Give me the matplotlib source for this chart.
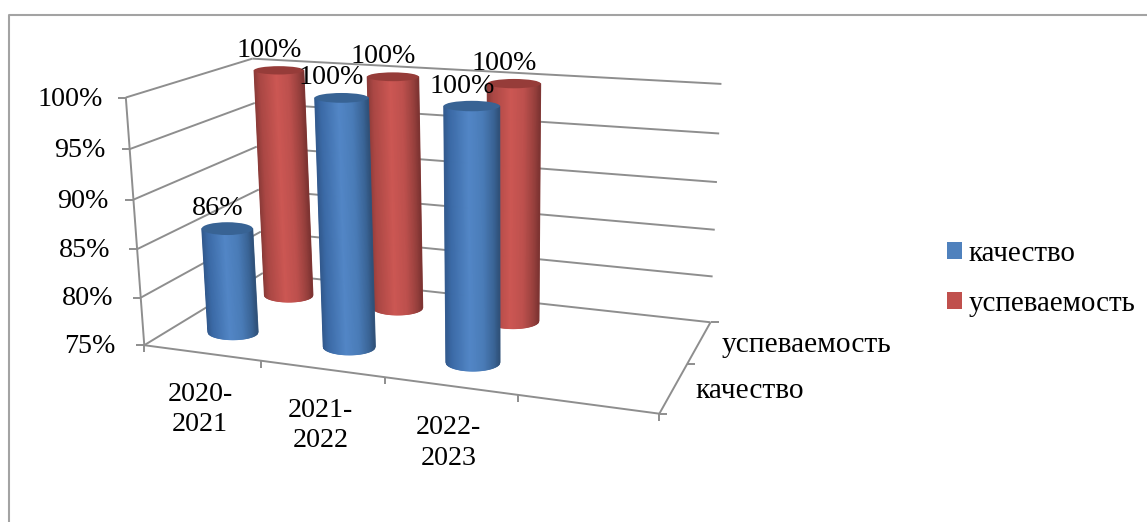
import matplotlib as mpl
import matplotlib.pyplot as plt
import numpy as np
from matplotlib.collections import PolyCollection
from matplotlib.colors import LinearSegmentedColormap
from matplotlib.patches import Ellipse, Patch

mpl.rcParams['font.family'] = ['Liberation Serif', 'DejaVu Serif']

categories = ['2020-\n2021', '2021-\n2022', '2022-\n2023']
n_slots = 4  # the source chart has one empty category on the right
series_names = ['качество', 'успеваемость']
kachestvo = [86, 100, 100]
uspevaemost = [100, 100, 100]
value_ticks = [75, 80, 85, 90, 95, 100]
vmin, vmax = 75, 100

GRID = '#8e8e8e'
FRAME = '#a3a3a3'
FS = 20.2
FS_RU = 21.2

# camera: box corners (x, depth, value) -> pixels, solved for a projective matrix
box = [(0, 0, 0), (0, 0, 1), (0, 1, 1), (0, 1, 0), (1, 1, 1), (1, 1, 0), (1, 0, 0),
       (.25, 0, 0), (.5, 0, 0), (.75, 0, 0)]
pix = [(143, 344), (128, 97), (250, 59), (265, 272), (722, 84), (710, 323), (660, 410),
       (260, 363), (385, 378), (517, 397)]
rows, rhs = [], []
for (X, Z, Y), (u, v) in zip(box, pix):
    rows.append([X, Z, Y, 1, 0, 0, 0, 0, -u * X, -u * Z, -u * Y])
    rhs.append(u)
    rows.append([0, 0, 0, 0, X, Z, Y, 1, -v * X, -v * Z, -v * Y])
    rhs.append(v)
P = np.append(np.linalg.lstsq(np.array(rows, float), np.array(rhs, float), rcond=None)[0], 1).reshape(3, 4)


def proj(x, z, y):
    p = P @ np.array([x, z, y, 1.0])
    return p[0] / p[2], p[1] / p[2]


def norm(v):
    return (v - vmin) / (vmax - vmin)


blue_cm = LinearSegmentedColormap.from_list('b', [(0, '#31588c'), (.12, '#3b6aa6'), (.45, '#5286c6'),
                                                  (.7, '#4a7cb8'), (.9, '#3a6496'), (1, '#2f5078')])
red_cm = LinearSegmentedColormap.from_list('r', [(0, '#8a3a38'), (.12, '#aa4744'), (.45, '#cc5753'),
                                                 (.7, '#bd504d'), (.9, '#97403d'), (1, '#7c3331')])


def half_width(xc, depth, y, r=0.054):
    w = (proj(xc + r, depth, y)[0] - proj(xc - r, depth, y)[0]) / 2
    return .6 * w + .4 * 26.5  # the source bars widen less than the floor does


def flatness(py):
    # ellipses get flatter the higher they sit in the picture
    return .13 + .00053 * py


def cylinder(ax, slot, depth, value, cmap, top_color):
    xc = (slot + .5) / n_slots
    bot = proj(xc, depth, 0)
    top = proj(xc, depth, norm(value))
    w_b = half_width(xc, depth, 0)
    w_t = half_width(xc, depth, norm(value))
    h_b, h_t = w_b * flatness(bot[1]), w_t * flatness(top[1])
    ts = np.linspace(-1, 1, 61)
    quads, cols = [], []
    for t0, t1 in zip(ts[:-1], ts[1:]):
        quads.append([(top[0] + t0 * w_t, top[1]), (top[0] + t1 * w_t, top[1]),
                      (bot[0] + t1 * w_b, bot[1] + np.sqrt(1 - t1 ** 2) * h_b),
                      (bot[0] + t0 * w_b, bot[1] + np.sqrt(1 - t0 ** 2) * h_b)])
        cols.append(cmap((t0 + t1 + 2) / 4))
    ax.add_collection(PolyCollection(quads, facecolors=cols, edgecolors=cols, linewidths=.6, zorder=3))
    ax.add_patch(Ellipse(top, 2 * w_t, 2 * h_t, facecolor=top_color, edgecolor='none', zorder=3))
    return top


fig = plt.figure(figsize=(11.47, 5.22), dpi=100)
ax = fig.add_axes([0, 0, 1, 1])
ax.set_xlim(0, 1147)
ax.set_ylim(522, 0)
ax.axis('off')

# outer frame, cut by the edge of the picture
ax.plot([9, 9, 1147], [522, 15, 15], color=FRAME, lw=1.5, zorder=1)


def seg(a, b):
    ax.plot([a[0], b[0]], [a[1], b[1]], color=GRID, lw=1.4, solid_capstyle='butt', zorder=1)


# walls
for v in value_ticks:
    y = norm(v)
    fl, bl, br = proj(0, 0, y), proj(0, 1, y), proj(1, 1, y)
    seg(fl, bl)
    seg(bl, br)
    seg((fl[0] - 8, fl[1]), fl)
    ax.text(fl[0] - 23 - 6 * (1 - y), fl[1] + 1 + y, f'{v}%', ha='right', va='center', fontsize=FS)
seg(proj(0, 0, 0), proj(0, 0, 1))

# floor and axis ticks
seg(proj(0, 0, 0), proj(1, 0, 0))
seg(proj(1, 0, 0), proj(1, 1, 0))
for i in range(n_slots + 1):
    p = proj(i / n_slots, 0, 0)
    seg(p, (p[0], p[1] + 7))
for z in [0, .5, 1]:
    p = proj(1, z, 0)
    seg(p, (p[0] + 8, p[1]))

# back row first, the blue row stands in front of it
tops = []
for i, v in enumerate(uspevaemost):
    tops.append((cylinder(ax, i, .75, v, red_cm, '#963c39'), v))
for i, v in enumerate(kachestvo):
    tops.append((cylinder(ax, i, .25, v, blue_cm, '#386394'), v))
for top, v in tops:
    ax.text(top[0] - 10, top[1] - 20, f'{v}%', ha='center', va='center', fontsize=FS, zorder=4)

for i, c in enumerate(categories):
    p = proj((i + .5) / n_slots, 0, 0)
    ax.text(p[0] - 1.5, p[1] + 57, c, ha='center', va='center', fontsize=FS, linespacing=1.28)
for name, z in zip(series_names, [.25, .75]):
    p = proj(1, z, 0)
    ax.text(p[0] + 22, p[1] + 3, name, ha='left', va='center', fontsize=FS_RU)

handles = [Patch(facecolor='#4f81bd', label=series_names[0]), Patch(facecolor='#c0504d', label=series_names[1])]
ax.legend(handles=handles, loc='upper left', bbox_to_anchor=(941, 235), bbox_transform=ax.transData,
          frameon=False, fontsize=20.9, handlelength=.53, handleheight=.53, handletextpad=.22,
          labelspacing=.82, borderpad=.2, borderaxespad=0)

fig.savefig('out.png', dpi=100)
